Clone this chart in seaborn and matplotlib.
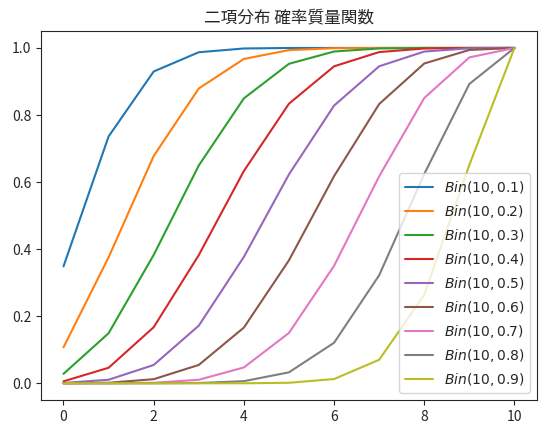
import matplotlib
matplotlib.use("Agg")
import matplotlib.pyplot as plt
import seaborn as sns
import pandas as pd

ks = [0, 1, 2, 3, 4, 5, 6, 7, 8, 9, 10]
probs = ["0.1", "0.2", "0.3", "0.4", "0.5", "0.6", "0.7", "0.8", "0.9"]
cdf_01 = [0.3487, 0.7361, 0.9298, 0.9872, 0.9984, 0.9999, 1.0, 1.0, 1.0, 1.0, 1.0]
cdf_02 = [0.1074, 0.3758, 0.6778, 0.8791, 0.9672, 0.9936, 0.9991, 0.9999, 1.0, 1.0, 1.0]
cdf_03 = [0.0282, 0.1493, 0.3828, 0.6496, 0.8497, 0.9527, 0.9894, 0.9984, 0.9999, 1.0, 1.0]
cdf_04 = [0.0060, 0.0464, 0.1673, 0.3823, 0.6331, 0.8338, 0.9452, 0.9877, 0.9983, 0.9999, 1.0]
cdf_05 = [0.0010, 0.0107, 0.0547, 0.1719, 0.3770, 0.6230, 0.8281, 0.9453, 0.9893, 0.9990, 1.0]
cdf_06 = [0.0001, 0.0017, 0.0123, 0.0548, 0.1662, 0.3669, 0.6177, 0.8327, 0.9536, 0.9940, 1.0]
cdf_07 = [0.0000, 0.0001, 0.0016, 0.0106, 0.0473, 0.1503, 0.3504, 0.6172, 0.8507, 0.9718, 1.0]
cdf_08 = [0.0000, 0.0000, 0.0001, 0.0009, 0.0064, 0.0328, 0.1209, 0.3222, 0.6242, 0.8926, 1.0]
cdf_09 = [0.0000, 0.0000, 0.0000, 0.0000, 0.0001, 0.0016, 0.0128, 0.0702, 0.2639, 0.6513, 1.0]
series = [cdf_01, cdf_02, cdf_03, cdf_04, cdf_05, cdf_06, cdf_07, cdf_08, cdf_09]
title = "二項分布 確率質量関数"

sns.set_style("ticks")
plt.rcParams['font.family'] = ['Noto Sans CJK JP', 'DejaVu Sans']
plt.rcParams['axes.unicode_minus'] = False

rows = []
for p, vals in zip(probs, series):
    label = r"$Bin(10, %s)$" % p
    for k, v in zip(ks, vals):
        rows.append({"k": k, "cdf": v, "dist": label})
df = pd.DataFrame(rows)

fig = plt.figure(figsize=(5.46, 4.33), dpi=100)
ax = fig.add_axes([0.075, 0.076, 0.9085, 0.852])
sns.lineplot(data=df, x="k", y="cdf", hue="dist", palette="tab10", ax=ax, linewidth=1.5)
ax.set_xlabel("")
ax.set_ylabel("")
ax.set_title(title, fontsize=12)
ax.set_xticks([0, 2, 4, 6, 8, 10])
ax.set_yticks([0.0, 0.2, 0.4, 0.6, 0.8, 1.0])
ax.legend(loc="lower right", title=None, fontsize=10)
fig.savefig("out.png", dpi=100)
